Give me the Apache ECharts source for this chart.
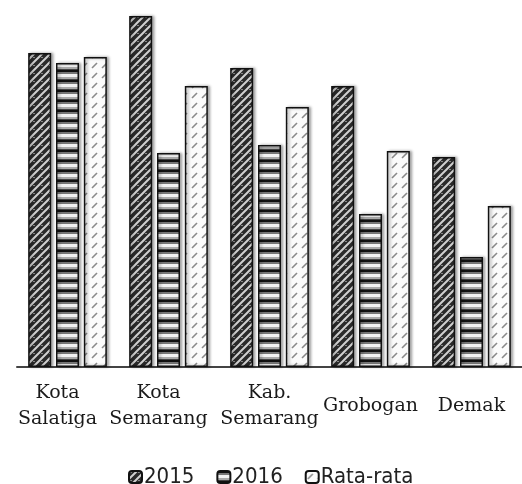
<!DOCTYPE html>
<html>
<head>
<meta charset="utf-8">
<script src="https://cdn.jsdelivr.net/npm/echarts@6/dist/echarts.min.js"></script>
<style>
  html, body { margin: 0; padding: 0; background: #fff; }
  #main { width: 522px; height: 484px; }
</style>
</head>
<body>
<div id="main"></div>
<script>
// 数据
var categories = ["Kota\nSalatiga", "Kota\nSemarang", "Kab.\nSemarang", "Grobogan", "Demak"];
var seriesNames = ["2015", "2016", "Rata-rata"];
var data2015 = [314, 351, 299, 281, 210];
var data2016 = [304, 214, 222, 153, 110];
var dataRata = [310, 281, 260, 216, 161];

// 标签左移量 (前两个标签在原图中略偏左)
var labelShift = [20, 20, 0, 0, 0];

// 图案填充
function makeTile(w, h, draw) {
  var c = document.createElement("canvas");
  c.width = w;
  c.height = h;
  draw(c.getContext("2d"), w, h);
  return c;
}

// 2015: 深色斜纹
var tile2015 = makeTile(8, 8, function (ctx, w, h) {
  ctx.fillStyle = "#2a2a2a";
  ctx.fillRect(0, 0, w, h);
  ctx.strokeStyle = "#d0d0d0";
  ctx.lineWidth = 2;
  ctx.beginPath();
  ctx.moveTo(-2, h + 2); ctx.lineTo(w + 2, -2);
  ctx.moveTo(-2 - w, h + 2); ctx.lineTo(2, -2);
  ctx.moveTo(w - 2, h + 2); ctx.lineTo(2 * w + 2, -2);
  ctx.stroke();
  ctx.fillStyle = "#888";
  ctx.fillRect(1, 1, 2, 1);
});

// 2016: 横条纹
var tile2016 = makeTile(4, 10, function (ctx, w) {
  var rows = [["#111", 2], ["#777", 2], ["#f2f2f2", 3], ["#aaa", 2], ["#444", 1]];
  var y = 0;
  rows.forEach(function (r) {
    ctx.fillStyle = r[0];
    ctx.fillRect(0, y, w, r[1]);
    y += r[1];
  });
});

// 平均值: 浅色斜短线
var tileRata = makeTile(10, 10, function (ctx, w, h) {
  ctx.fillStyle = "#fbfbfb";
  ctx.fillRect(0, 0, w, h);
  ctx.strokeStyle = "#8a8a8a";
  ctx.lineWidth = 1.6;
  ctx.beginPath();
  ctx.moveTo(2, 8); ctx.lineTo(7, 3);
  ctx.stroke();
});

function barStyle(tile) {
  return {
    color: { image: tile, repeat: "repeat" },
    borderColor: "#111",
    borderWidth: 1.5,
    shadowColor: "rgba(0,0,0,0.35)",
    shadowBlur: 3,
    shadowOffsetX: 2,
    shadowOffsetY: 0
  };
}

var categoryItems = categories.map(function (name, i) {
  return {
    value: name,
    textStyle: {
      verticalAlign: "middle",
      lineHeight: 26,
      padding: [0, labelShift[i], 0, 0]
    }
  };
});

var myChart = echarts.init(document.getElementById("main"));

var option = {
  animation: false,
  backgroundColor: "#fff",
  grid: {
    left: 17,
    width: 507,
    top: 7,
    bottom: 117
  },
  legend: {
    data: seriesNames,
    top: 461,
    left: 123,
    itemWidth: 13,
    itemHeight: 12,
    itemGap: 22,
    textStyle: {
      fontFamily: "DejaVu Sans Condensed, DejaVu Sans",
      fontSize: 22,
      color: "#222",
      padding: [0, 0, 0, -3]
    }
  },
  xAxis: {
    type: "category",
    data: categoryItems,
    axisTick: { show: false },
    axisLine: {
      lineStyle: { color: "#444", width: 2 }
    },
    axisLabel: {
      interval: 0,
      color: "#1a1a1a",
      fontFamily: "DejaVu Serif",
      fontSize: 19,
      lineHeight: 26,
      verticalAlign: "middle",
      margin: 39
    }
  },
  yAxis: {
    type: "value",
    min: 0,
    max: 360,
    show: false
  },
  series: [
    {
      name: seriesNames[0],
      type: "bar",
      barWidth: 23,
      barGap: "21%",
      data: data2015,
      itemStyle: barStyle(tile2015)
    },
    {
      name: seriesNames[1],
      type: "bar",
      barWidth: 23,
      barGap: "21%",
      data: data2016,
      itemStyle: barStyle(tile2016)
    },
    {
      name: seriesNames[2],
      type: "bar",
      barWidth: 23,
      barGap: "21%",
      data: dataRata,
      itemStyle: barStyle(tileRata)
    }
  ]
};

myChart.setOption(option);
window.addEventListener("resize", function () {
  myChart.resize();
});
</script>
</body>
</html>
